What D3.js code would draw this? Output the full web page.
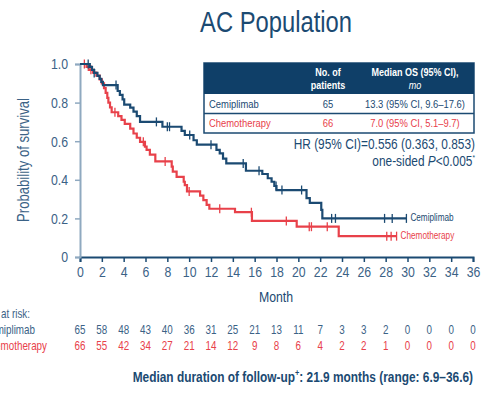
<!DOCTYPE html>
<html>
<head>
<meta charset="utf-8">
<script src="https://cdn.jsdelivr.net/npm/d3@7"></script>
<style>
  html, body { margin: 0; padding: 0; background: #fff; }
  svg { display: block; }
  text { font-family: 'Liberation Sans', Arial, Helvetica, sans-serif; }
</style>
</head>
<body>
<div id="chart"></div>
<script>
// ---- data ----
var xTicks = [0, 2, 4, 6, 8, 10, 12, 14, 16, 18, 20, 22, 24, 26, 28, 30, 32, 34, 36];
var yTicks = [0, 0.2, 0.4, 0.6, 0.8, 1.0];

var cemiTimes = [0, 0.9, 1.1, 1.3, 1.6, 1.8, 1.95, 2.1, 3.45, 3.65, 3.9, 4.05, 4.6, 4.9, 5.2, 5.5, 7.55, 9.3, 9.6, 10.4, 10.7, 12.5, 12.8, 13.1, 13.4, 15.2, 16.7, 17.2, 17.55, 17.8, 18.0, 20.75, 21.05, 22.1, 22.2];
var cemiSurv = [1, 0.985, 0.969, 0.954, 0.938, 0.923, 0.907, 0.891, 0.86, 0.84, 0.817, 0.79, 0.774, 0.753, 0.73, 0.70, 0.675, 0.653, 0.632, 0.605, 0.582, 0.555, 0.537, 0.51, 0.485, 0.447, 0.43, 0.408, 0.39, 0.368, 0.347, 0.305, 0.28, 0.244, 0.20];
var cemiEnd = 29.9;
var cemiCensor = [0.75, 1.3, 3.3, 7.0, 8.0, 8.2, 10.05, 12.0, 14.95, 16.4, 17.96, 18.5, 20.3, 23.05, 23.4, 27.9, 28.6, 29.9];

var chemoTimes = [0, 0.6, 0.8, 1.2, 1.5, 1.8, 2.0, 2.2, 2.35, 2.5, 2.6, 2.75, 2.9, 3.5, 3.8, 4.1, 4.6, 4.9, 5.2, 5.5, 5.95, 6.1, 6.4, 6.9, 8.4, 8.5, 8.85, 9.5, 9.6, 9.8, 11.0, 11.3, 11.6, 11.85, 14.2, 15.75, 19.85, 23.7];
var chemoSurv = [1, 0.985, 0.97, 0.955, 0.94, 0.92, 0.9, 0.875, 0.85, 0.825, 0.8, 0.775, 0.75, 0.73, 0.71, 0.69, 0.665, 0.64, 0.618, 0.597, 0.572, 0.555, 0.53, 0.495, 0.468, 0.442, 0.415, 0.39, 0.372, 0.34, 0.318, 0.295, 0.27, 0.25, 0.232, 0.187, 0.157, 0.108];
var chemoEnd = 29.0;
var chemoCensor = [0.4, 1.0, 3.2, 5.8, 7.8, 10.0, 12.8, 15.7, 18.9, 21.0, 21.2, 22.65, 28.1, 28.5, 29.0];

var riskCemi = [65, 58, 48, 43, 40, 36, 31, 25, 21, 13, 11, 7, 3, 3, 2, 0, 0, 0, 0];
var riskChemo = [66, 55, 42, 34, 27, 21, 14, 12, 9, 8, 6, 4, 2, 2, 1, 0, 0, 0, 0];

var tableRows = [
  {arm: "Cemiplimab", n: "65", os: "13.3 (95% CI, 9.6\u201317.6)"},
  {arm: "Chemotherapy", n: "66", os: "7.0 (95% CI, 5.1\u20139.7)"}
];

var NAVY = "#1b4a72", RED = "#e8414a", SLATE = "#3b6286", AXISLIGHT = "#8fa9c0";
var SQ = 0.82; // the reference uses a narrow face; squeeze Liberation Sans to match

var W = 483, H = 398;
var svg = d3.select("#chart").append("svg").attr("width", W).attr("height", H);

var x = d3.scaleLinear().domain([0, 36]).range([80, 473]);
var y = d3.scaleLinear().domain([0, 1]).range([257, 64]);

// narrow text helper: returns the text node, positioned at (px,py)
function nt(parent, px, py, str, extra) {
  var t = parent.append("text")
    .attr("transform", "translate(" + px + "," + py + ")" + (extra || "") + " scale(" + SQ + ",1)");
  if (str != null) t.text(str);
  return t;
}

// title
nt(svg, 276, 32, "AC Population").attr("text-anchor", "middle")
  .attr("font-size", 29).attr("fill", NAVY);

// axes
var xAxis = svg.append("g").attr("transform", "translate(0,257)")
  .call(d3.axisBottom(x).tickValues(xTicks).tickSize(5).tickPadding(4).tickFormat(d3.format("d")));
xAxis.select(".domain").attr("stroke", NAVY).attr("stroke-width", 2);
xAxis.selectAll(".tick line").attr("stroke", NAVY).attr("stroke-width", 1.5);
xAxis.selectAll("text").attr("font-size", 15).attr("fill", SLATE).attr("font-family", null)
  .attr("transform", "scale(" + SQ + ",1)");

var yAxis = svg.append("g").attr("transform", "translate(80,0)")
  .call(d3.axisLeft(y).tickValues(yTicks).tickSize(5).tickPadding(7)
    .tickFormat(function(d){ return d === 0 ? "0" : d.toFixed(1); }));
yAxis.select(".domain").attr("stroke", AXISLIGHT).attr("stroke-width", 2);
yAxis.selectAll(".tick line").attr("stroke", AXISLIGHT).attr("stroke-width", 1.5);
yAxis.selectAll("text").attr("font-size", 15).attr("fill", SLATE).attr("font-family", null)
  .attr("x", -12 / SQ).attr("transform", "scale(" + SQ + ",1)");

nt(svg, 276, 302, "Month").attr("text-anchor", "middle").attr("font-size", 15).attr("fill", NAVY);
nt(svg, 29, 160, "Probability of survival", " rotate(-90)").attr("text-anchor", "middle")
  .attr("font-size", 16).attr("fill", SLATE);

// curves
function stepData(times, surv, end) {
  var pts = times.map(function(t, i){ return [t, surv[i]]; });
  pts.push([end, surv[surv.length - 1]]);
  return pts;
}
function survAt(times, surv, t) {
  var i = d3.bisectRight(times, t) - 1;
  return surv[Math.max(0, i)];
}
var line = d3.line().x(function(d){ return x(d[0]); }).y(function(d){ return y(d[1]); }).curve(d3.curveStepAfter);

var arms = [
  {times: chemoTimes, surv: chemoSurv, end: chemoEnd, censor: chemoCensor, color: RED, label: "Chemotherapy"},
  {times: cemiTimes, surv: cemiSurv, end: cemiEnd, censor: cemiCensor, color: NAVY, label: "Cemiplimab"}
];
arms.forEach(function(a){
  svg.append("path").datum(stepData(a.times, a.surv, a.end))
    .attr("d", line).attr("fill", "none").attr("stroke", a.color).attr("stroke-width", 2.2);
  svg.selectAll(null).data(a.censor).enter().append("line")
    .attr("x1", function(d){ return x(d); }).attr("x2", function(d){ return x(d); })
    .attr("y1", function(d){ return y(survAt(a.times, a.surv, d)) - 4.5; })
    .attr("y2", function(d){ return y(survAt(a.times, a.surv, d)) + 4.5; })
    .attr("stroke", a.color).attr("stroke-width", 1.3);
  nt(svg, x(a.end) + 4, y(a.surv[a.surv.length - 1]) + 3, a.label)
    .attr("font-size", 10).attr("fill", a.color);
});

// legend table
var tb = svg.append("g");
tb.append("rect").attr("x", 204).attr("y", 63).attr("width", 270).attr("height", 70)
  .attr("fill", "#fff").attr("stroke", NAVY).attr("stroke-width", 1.5);
tb.append("rect").attr("x", 204).attr("y", 63).attr("width", 270).attr("height", 31).attr("fill", "#0f3f68");
tb.append("line").attr("x1", 204).attr("x2", 474).attr("y1", 113.5).attr("y2", 113.5)
  .attr("stroke", NAVY).attr("stroke-width", 1.5);
var hdr = tb.append("g").attr("fill", "#fff").attr("font-weight", "bold").attr("font-size", 11).attr("text-anchor", "middle");
nt(hdr, 328, 76, "No. of");
nt(hdr, 328, 89, "patients");
nt(hdr, 415, 76, "Median OS (95% CI),");
nt(hdr, 415, 89, "mo").attr("font-style", "italic").attr("font-weight", "normal");
tableRows.forEach(function(d, i){
  var yy = 108 + i * 19, c = i === 0 ? NAVY : RED;
  nt(tb, 209, yy, d.arm).attr("font-size", 11.5).attr("fill", c);
  nt(tb, 328, yy, d.n).attr("font-size", 11.5).attr("fill", c).attr("text-anchor", "middle");
  nt(tb, 415, yy, d.os).attr("font-size", 11.5).attr("fill", c).attr("text-anchor", "middle");
});

// HR text
nt(svg, 475, 149, "HR (95% CI)=0.556 (0.363, 0.853)").attr("text-anchor", "end")
  .attr("font-size", 14.5).attr("fill", NAVY);
var p = nt(svg, 475, 166).attr("text-anchor", "end").attr("font-size", 14.5).attr("fill", NAVY);
p.append("tspan").text("one-sided ");
p.append("tspan").attr("font-style", "italic").text("P");
p.append("tspan").text("<0.005");
p.append("tspan").attr("font-size", 8).attr("dy", -6).text("*");

// number at risk (the row labels run off the left edge, as in the source slide)
nt(svg, 30, 318, "No. at risk:").attr("text-anchor", "end").attr("font-size", 12).attr("fill", SLATE);
nt(svg, 35, 334, "Cemiplimab").attr("text-anchor", "end").attr("font-size", 12).attr("fill", SLATE);
nt(svg, 47, 350, "Chemotherapy").attr("text-anchor", "end").attr("font-size", 12).attr("fill", RED);
riskCemi.forEach(function(d, i){
  nt(svg, x(xTicks[i]), 334, d).attr("text-anchor", "middle").attr("font-size", 12).attr("fill", SLATE);
});
riskChemo.forEach(function(d, i){
  nt(svg, x(xTicks[i]), 350, d).attr("text-anchor", "middle").attr("font-size", 12).attr("fill", RED);
});

// footer
var f = nt(svg, 473, 382).attr("text-anchor", "end")
  .attr("font-size", 14.5).attr("font-weight", "bold").attr("fill", NAVY);
f.append("tspan").text("Median duration of follow-up");
f.append("tspan").attr("font-size", 9).attr("dy", -6).text("+");
f.append("tspan").attr("dy", 6).text(": 21.9 months (range: 6.9\u201336.6)");
</script>
</body>
</html>
